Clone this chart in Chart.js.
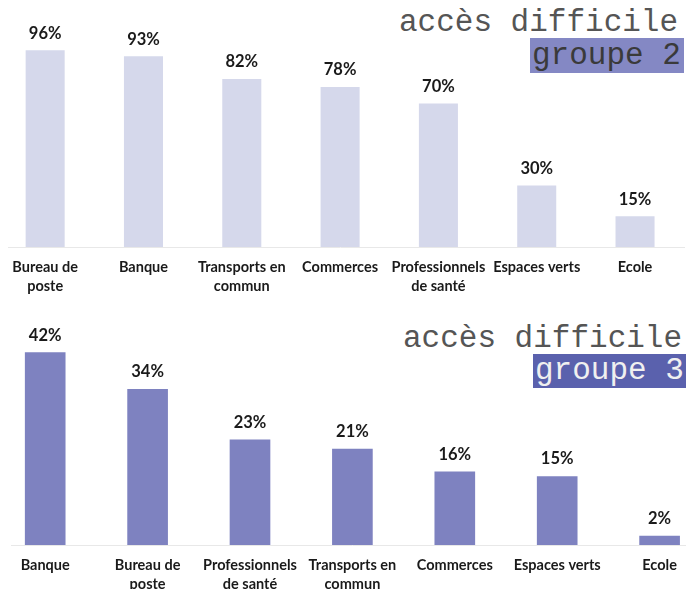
<!DOCTYPE html>
<html>
<head>
<meta charset="utf-8">
<script src="https://cdn.jsdelivr.net/npm/chart.js@4"></script>
<style>
  html, body { margin: 0; padding: 0; width: 686px; height: 589px; overflow: hidden; background: #ffffff; }
  body { position: relative; }
  .wrap { position: absolute; overflow: hidden; }
  .wrap canvas { position: absolute; top: 0; }
  .title { position: absolute; font-family: 'Liberation Mono', 'Courier New', monospace; font-size: 31px; line-height: 31px; color: #555555; white-space: pre; }
  .box { position: absolute; font-family: 'Liberation Mono', 'Courier New', monospace; font-size: 31px; white-space: pre; box-sizing: border-box; }
</style>
</head>
<body>
<div class="title" style="left:399px; top:7px;">accès difficile</div>
<div class="box" style="left:530px; top:38px; width:154px; height:35px; background:#8488c4; color:#3a3a3a; line-height:35px; padding-left:2px;">groupe 2</div>

<div class="title" style="left:403px; top:323px;">accès difficile</div>
<div class="box" style="left:533px; top:354px; width:153px; height:34px; background:#5a61ad; color:#f0f0f0; line-height:34px; padding-left:2px;">groupe 3</div>

<div class="wrap" style="left:8px; top:0px; width:678px; height:310px;">
  <canvas id="c1" width="690" height="307" style="left:-12px; width:690px; height:307px;"></canvas>
</div>
<div class="wrap" style="left:11px; top:300px; width:675px; height:289px;">
  <canvas id="c2" width="717" height="305" style="left:-16.7px; width:717px; height:305px;"></canvas>
</div>

<script>
// ---- data ----
const group2Categories = [['Bureau de', 'poste'], 'Banque', ['Transports en', 'commun'], 'Commerces', ['Professionnels', 'de santé'], 'Espaces verts', 'Ecole'];
const group2Values = [96, 93, 82, 78, 70, 30, 15];

const group3Categories = ['Banque', ['Bureau de', 'poste'], ['Professionnels', 'de santé'], ['Transports en', 'commun'], 'Commerces', 'Espaces verts', 'Ecole'];
const group3Values = [42, 34, 23, 21, 16, 15, 2];

const valueLabels = {
  id: 'valueLabels',
  afterDatasetsDraw(chart) {
    const ctx = chart.ctx;
    const meta = chart.getDatasetMeta(0);
    const data = chart.data.datasets[0].data;
    ctx.save();
    ctx.font = 'bold 16.5px Lato, "Open Sans", sans-serif';
    ctx.fillStyle = '#1a1a1a';
    ctx.textAlign = 'center';
    ctx.textBaseline = 'middle';
    meta.data.forEach((bar, i) => {
      ctx.fillText(data[i] + '%', bar.x, bar.y - 17);
    });
    ctx.restore();
  }
};

function makeChart(id, labels, values, color, yMax, padTop, padRight) {
  return new Chart(document.getElementById(id), {
    type: 'bar',
    data: {
      labels: labels,
      datasets: [{
        data: values,
        backgroundColor: color,
        borderWidth: 0,
        categoryPercentage: 1.0,
        barPercentage: 0.397
      }]
    },
    options: {
      responsive: false,
      devicePixelRatio: 1,
      animation: false,
      layout: { padding: { top: padTop, left: 0, right: padRight, bottom: 0 } },
      plugins: { legend: { display: false }, tooltip: { enabled: false }, title: { display: false } },
      scales: {
        x: {
          grid: { display: false, drawTicks: false },
          border: { display: true, color: '#e8e8e8', width: 1 },
          ticks: {
            padding: 11,
            color: '#1a1a1a',
            maxRotation: 0,
            autoSkip: false,
            font: { family: 'Lato, "Open Sans", sans-serif', size: 14.5, weight: 'bold', lineHeight: '19px' }
          },
          afterFit(scale) { scale.height = 60; }
        },
        y: {
          display: false,
          min: 0,
          max: yMax
        }
      }
    },
    plugins: [valueLabels]
  });
}

makeChart('c1', group2Categories, group2Values, '#d5d8eb', 100, 42, 1.8);
makeChart('c2', group3Categories, group3Values, '#7e82c0', 45, 38.5, 0.2);
</script>
</body>
</html>
